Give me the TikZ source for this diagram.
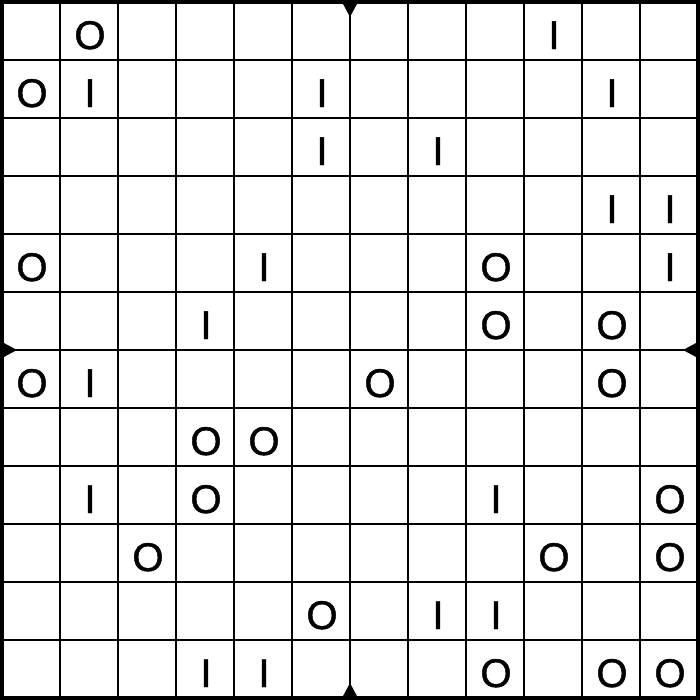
\documentclass[tikz,border=0pt]{standalone}
\usepackage{fontspec}
\setmainfont{Liberation Sans}
\newfontfamily\cellfont{Liberation Sans}[FakeBold=1.2]

\begin{document}
\begin{tikzpicture}[x=0.75pt,y=0.75pt,yscale=-1,xscale=1,
		cellval/.style={anchor=base,inner sep=0pt,font=\cellfont\fontsize{30}{36}\selectfont},
		gridline/.style={line width=1.4pt},
		frameline/.style={line width=3pt}]
	\useasboundingbox (0,0) rectangle (700,700);
	
	%Inner grid lines
	\foreach \i in {1,...,11}{
		\draw[gridline] (2+58*\i,2) -- (2+58*\i,698);
		\draw[gridline] (2,2+58*\i) -- (698,2+58*\i);
	}
	%Outer frame
	\draw[frameline] (2,2) rectangle (698,698);
	
	%Edge markers
	\fill (342,2) -- (358,2) -- (350,17) -- cycle;
	\fill (342,698) -- (358,698) -- (350,683) -- cycle;
	\fill (2,342) -- (2,358) -- (17,350) -- cycle;
	\fill (698,342) -- (698,358) -- (683,350) -- cycle;
	
	%Cell values
	\foreach \r/\c/\v in {0/1/O, 0/9/I,
			1/0/O, 1/1/I, 1/5/I, 1/10/I,
			2/5/I, 2/7/I,
			3/10/I, 3/11/I,
			4/0/O, 4/4/I, 4/8/O, 4/11/I,
			5/3/I, 5/8/O, 5/10/O,
			6/0/O, 6/1/I, 6/6/O, 6/10/O,
			7/3/O, 7/4/O,
			8/1/I, 8/3/O, 8/8/I, 8/11/O,
			9/2/O, 9/9/O, 9/11/O,
			10/5/O, 10/7/I, 10/8/I,
			11/3/I, 11/4/I, 11/8/O, 11/10/O, 11/11/O}
		\node[cellval] (c\r-\c) at (32+58*\c,49+58*\r) {\v};
	
\end{tikzpicture}
\end{document}
